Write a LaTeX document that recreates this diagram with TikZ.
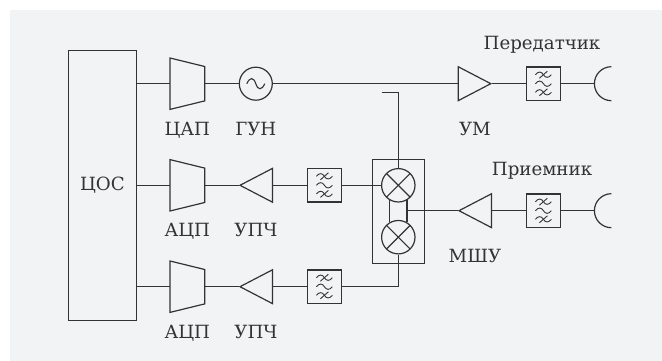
\documentclass[tikz,border=0pt]{standalone}
\usepackage{fontspec}
\setmainfont{DejaVu Serif}
\usetikzlibrary{positioning,calc,fit,shapes.geometric}
\definecolor{panelgray}{HTML}{F2F3F5}
\definecolor{inkgray}{HTML}{333333}
% wave for the filter and the oscillator
\newcommand{\wavepath}[4]{
  \draw[line width=#4] ($(path picture bounding box.center)+(-#1pt,#3pt)$)
    .. controls +(#1*0.35pt,#2*1.35pt) and +(-#1*0.25pt,#2*1.35pt) .. ($(path picture bounding box.center)+(0pt,#3pt)$)
    .. controls +(#1*0.25pt,-#2*1.35pt) and +(-#1*0.35pt,-#2*1.35pt) .. ($(path picture bounding box.center)+(#1pt,#3pt)$);
}
\newcommand{\wavestroke}[1]{
  \draw[line width=0.9pt] ($(path picture bounding box.center)+(-4pt,#1pt-3.5pt)$) -- ($(path picture bounding box.center)+(4pt,#1pt+3.5pt)$);
}
% outline of a converter around its node
\newcommand{\convoutline}[1]{
  \draw[wire] (#1.north west) -- (#1.south west) -- ($(#1.south east)+(0,8.5)$) -- ($(#1.north east)+(0,-8.5)$) -- cycle;
}
\tikzset{
    every node/.style={font=\fontsize{18.2}{20}\selectfont, text=inkgray, inner sep=0pt},
    wire/.style={draw=inkgray, line width=1.2pt},
    dspbox/.style={wire, rectangle, minimum width=68pt, minimum height=270pt},
    dacbox/.style={rectangle, minimum width=34.3pt, minimum height=51pt},
    adcbox/.style={dacbox},
    ampleft/.style={wire, isosceles triangle, inner sep=0.5pt, isosceles triangle apex angle=55, shape border rotate=180, minimum height=32.5pt},
    ampright/.style={ampleft, shape border rotate=0},
    vcocirc/.style={wire, circle, minimum size=33pt, path picture={\wavepath{9}{5}{0}{1.1pt}}},
    filterbox/.style={wire, rectangle, minimum size=33.4pt, path picture={
        \wavepath{8}{2.6}{9}{0.9pt}\wavestroke{9}
        \wavepath{8}{2.6}{0}{0.9pt}
        \wavepath{8}{2.6}{-8.6}{0.9pt}\wavestroke{-8.6}}},
    mixer/.style={wire, circle, minimum size=33.4pt, path picture={
        \draw[wire] (path picture bounding box.north west) -- (path picture bounding box.south east);
        \draw[wire] (path picture bounding box.north east) -- (path picture bounding box.south west);}},
    antarc/.style={wire},
}

\begin{document}
\begin{tikzpicture}[x=1pt,y=1pt]
\useasboundingbox (0,0) rectangle (662,-361);
\fill[panelgray] (10,-10) rectangle (662,-361);

\node[dspbox] (dsp) at (102.4,-185.2) {ЦОС};

% transmit row
\node[dacbox,anchor=west] (dac) at (170,-83.7) {};
\convoutline{dac}
\node[vcocirc,right=34pt of dac.east,anchor=west] (vco) {};
\node[ampright,anchor=west] (pa) at (457.7,-83.7) {};
\node[filterbox,right=34pt of pa.east,anchor=west] (txflt) {};
\coordinate[right=33.7pt of txflt.east] (txant);
\node[below=38pt of dac.center] (daclbl) {ЦАП};
\node[below=38pt of vco.center] (vcolbl) {ГУН};
\node[anchor=north] (palbl) at ($(pa.west)!0.5!(pa.east)+(0,-38.5)$) {УМ};
\node (txlbl) at (542,-45) {Передатчик};

% receive rows
\foreach \n/\ypos in {1/185.3,2/286.7}{
  \node[adcbox,anchor=west] (adc\n) at (170,-\ypos) {};
  \convoutline{adc\n}
  \node[ampleft,right=34pt of adc\n.east,anchor=west] (ifa\n) {};
  \node[filterbox,right=34pt of ifa\n.east,anchor=west] (ifflt\n) {};
  \node[below=38pt of adc\n.center] (adclbl\n) {АЦП};
  \node[anchor=north] (ifalbl\n) at ($(ifa\n.west)!0.5!(ifa\n.east)+(0,-38)$) {УПЧ};
  \draw[wire] (dsp.east |- adc\n.west) -- (adc\n.west);
  \draw[wire] (adc\n.east) -- (ifa\n.west);
  \draw[wire] (ifa\n.east) -- (ifflt\n.west);
}

% mixer pair
\node[mixer] (mix1) at (398.3,-185.3) {};
\node[mixer,below=17.3pt of mix1] (mix2) {};
\node[wire,fit=(mix1)(mix2),inner sep=8.9pt] (mixbox) {};
\coordinate (lotap) at (381.7,-92.3);

% low-noise row
\node[ampleft,anchor=west] (lna) at (457.7,-210.7) {};
\node[filterbox,right=34pt of lna.east,anchor=west] (rxflt) {};
\coordinate[right=33.7pt of rxflt.east] (rxant);
\node[anchor=north] (lnalbl) at ($(lna.west)!0.5!(lna.east)+(0,-38)$) {МШУ};
\node (rxlbl) at (542,-171) {Приемник};

\draw[wire] (dsp.east |- dac.west) -- (dac.west);
\draw[wire] (dac.east) -- (vco.west);
\draw[wire] (vco.east) -- (pa.west);
\draw[wire] (pa.east) -- (txflt.west);
\draw[wire] (txflt.east) -- (txant);
\draw[wire] (lotap) -| (mix1.north);
\draw[wire] (ifflt1.east) -- (mix1.west);
\draw[wire] (mix1.-120) -- (mix2.120);
\draw[wire] (mix1.-60) -- (mix2.60);
\draw[wire] (mix2.south) |- (ifflt2.east);
\draw[wire] (lna.west) -- (mix1.-60 |- lna.west);
\draw[wire] (lna.east) -- (rxflt.west);
\draw[wire] (rxflt.east) -- (rxant);

% antennas
\draw[antarc] ($(txant)+(17,17)$) arc[start angle=90,end angle=270,radius=17];
\draw[antarc] ($(rxant)+(17,17)$) arc[start angle=90,end angle=270,radius=17];
\end{tikzpicture}
\end{document}
